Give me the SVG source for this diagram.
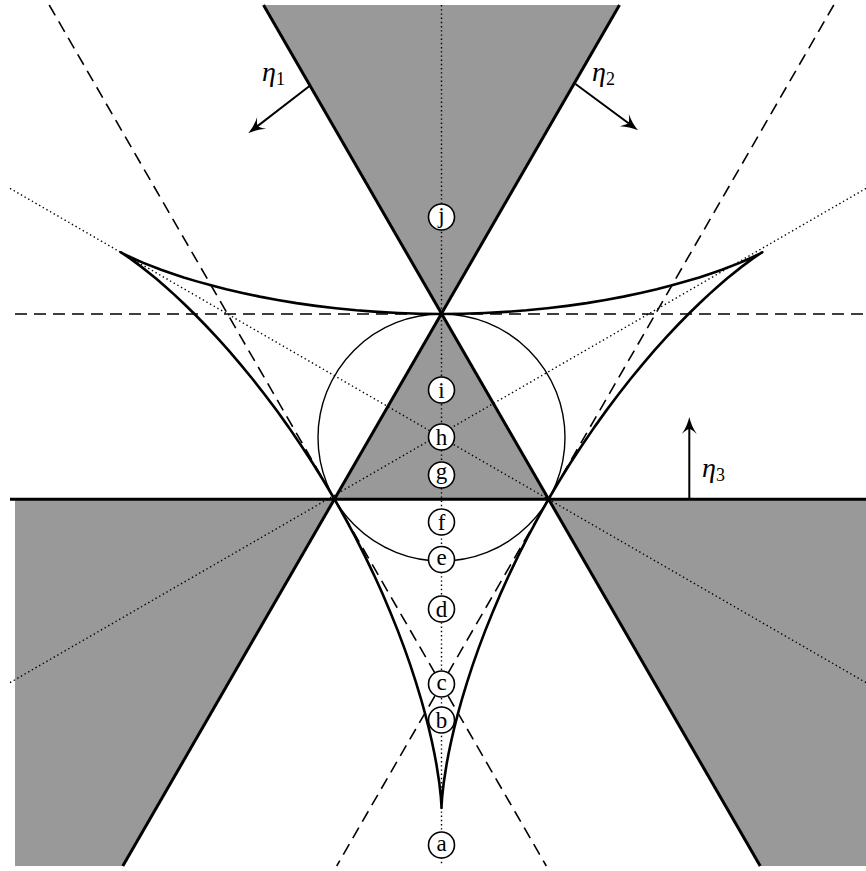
<svg xmlns="http://www.w3.org/2000/svg" width="866" height="871" viewBox="0 0 866 871">
<defs>
<style>
.gray{fill:#999999;stroke:none}
.thick{stroke:#000;stroke-width:3;fill:none}
.dash{stroke:#000;stroke-width:1.6;fill:none;stroke-dasharray:12 7}
.dot{stroke:#000;stroke-width:1.4;fill:none;stroke-dasharray:1.4 2.8}
.curve{stroke:#000;stroke-width:2.6;fill:none;stroke-linejoin:round;stroke-linecap:round}
.circ{stroke:#000;stroke-width:1.4;fill:none}
.lbl circle{fill:#fff;stroke:#000;stroke-width:1.6}
.lbl text{font-size:23px;text-anchor:middle;fill:#000}
.arrow{stroke:#000;stroke-width:2;fill:none;marker-end:url(#ah)}
.eta{font-style:italic;font-size:28px;fill:#000}
.sub{font-style:normal;font-size:18px}
</style>
<marker id="ah" markerUnits="userSpaceOnUse" viewBox="-20 -10 22 20" markerWidth="22" markerHeight="20" refX="-8" refY="0" orient="auto" overflow="visible">
<path d="M0,0 Q-9,-2 -17,-7.5 Q-12,-2 -12,0 Q-12,2 -17,7.5 Q-9,2 0,0 Z" fill="#000"/>
</marker>
</defs>

<g id="regions">
<polygon class="gray" points="263.5,5 619.5,5 441.5,314"/>
<polygon class="gray" points="441.5,314 334.55,499.25 548.45,499.25"/>
<polygon class="gray" points="15,499.25 334.55,499.25 122.8,866 15,866"/>
<polygon class="gray" points="548.45,499.25 866,499.25 866,866 760.2,866"/>
</g>

<g id="connectors">
<line class="dot" x1="441.5" y1="5" x2="441.5" y2="866"/>
<line class="dot" x1="10" y1="188.4" x2="866" y2="682.6"/>
<line class="dot" x1="866" y1="188.4" x2="10" y2="682.6"/>
<line class="dash" x1="15" y1="314" x2="866" y2="314"/>
<line class="dash" x1="49.2" y1="5" x2="546.3" y2="866"/>
<line class="dash" x1="833.8" y1="5" x2="336.7" y2="866"/>
<circle class="circ" cx="441.5" cy="437.5" r="123.5"/>
<g id="deltoid" transform="translate(441.5,437.5)">
<path id="arc" class="curve" d="M106.95,61.75 L96.39,80.52 86.28,99.43 76.67,118.40 67.59,137.32 59.08,156.11 51.16,174.66 43.84,192.87 37.15,210.66 31.07,227.92 25.62,244.57 20.78,260.51 16.55,275.66 12.89,289.93 9.78,303.24 7.20,315.53 5.09,326.71 2.18,345.54 0.65,359.30 0.08,367.68 0,370.5 -0.08,367.68 -0.65,359.30 -2.18,345.54 -5.09,326.71 -7.20,315.53 -9.78,303.24 -12.89,289.93 -16.55,275.66 -20.78,260.51 -25.62,244.57 -31.07,227.92 -37.15,210.66 -43.84,192.87 -51.16,174.66 -59.08,156.11 -67.59,137.32 -76.67,118.40 -86.28,99.43 -96.39,80.52 -106.95,61.75"/>
<use href="#arc" transform="rotate(120)"/>
<use href="#arc" transform="rotate(240)"/>
</g>
<line class="thick" x1="10" y1="499.25" x2="866" y2="499.25"/>
<line class="thick" x1="263.5" y1="5" x2="760.2" y2="866"/>
<line class="thick" x1="619.5" y1="5" x2="122.8" y2="866"/>
<line class="arrow" x1="309.5" y1="86" x2="254.6" y2="128.4"/>
<line class="arrow" x1="575.5" y1="84" x2="631.6" y2="125.5"/>
<line class="arrow" x1="689.3" y1="499" x2="689.3" y2="425"/>
</g>

<g id="eta1"><text class="eta" font-family="Liberation Serif, serif" x="262" y="81">η<tspan class="sub" dy="4">1</tspan></text></g>
<g id="eta2"><text class="eta" font-family="Liberation Serif, serif" x="592" y="81">η<tspan class="sub" dy="4">2</tspan></text></g>
<g id="eta3"><text class="eta" font-family="Liberation Serif, serif" x="702" y="477">η<tspan class="sub" dy="4">3</tspan></text></g>

<g id="node-j" class="lbl" font-family="Liberation Serif, serif"><circle cx="441.5" cy="217" r="13"/><text x="441.5" y="222.5">j</text></g>
<g id="node-i" class="lbl" font-family="Liberation Serif, serif"><circle cx="441.5" cy="390" r="13"/><text x="441.5" y="398">i</text></g>
<g id="node-h" class="lbl" font-family="Liberation Serif, serif"><circle cx="441.5" cy="437" r="13"/><text x="441.5" y="445">h</text></g>
<g id="node-g" class="lbl" font-family="Liberation Serif, serif"><circle cx="441.5" cy="475" r="13"/><text x="441.5" y="478.5">g</text></g>
<g id="node-f" class="lbl" font-family="Liberation Serif, serif"><circle cx="441.5" cy="522" r="13"/><text x="441.5" y="530">f</text></g>
<g id="node-e" class="lbl" font-family="Liberation Serif, serif"><circle cx="441.5" cy="559.5" r="13"/><text x="441.5" y="565">e</text></g>
<g id="node-d" class="lbl" font-family="Liberation Serif, serif"><circle cx="441.5" cy="609" r="13"/><text x="441.5" y="617">d</text></g>
<g id="node-c" class="lbl" font-family="Liberation Serif, serif"><circle cx="441.5" cy="684" r="13"/><text x="441.5" y="689.5">c</text></g>
<g id="node-b" class="lbl" font-family="Liberation Serif, serif"><circle cx="441.5" cy="720" r="13"/><text x="441.5" y="728">b</text></g>
<g id="node-a" class="lbl" font-family="Liberation Serif, serif"><circle cx="441.5" cy="845" r="13"/><text x="441.5" y="850.5">a</text></g>
</svg>
